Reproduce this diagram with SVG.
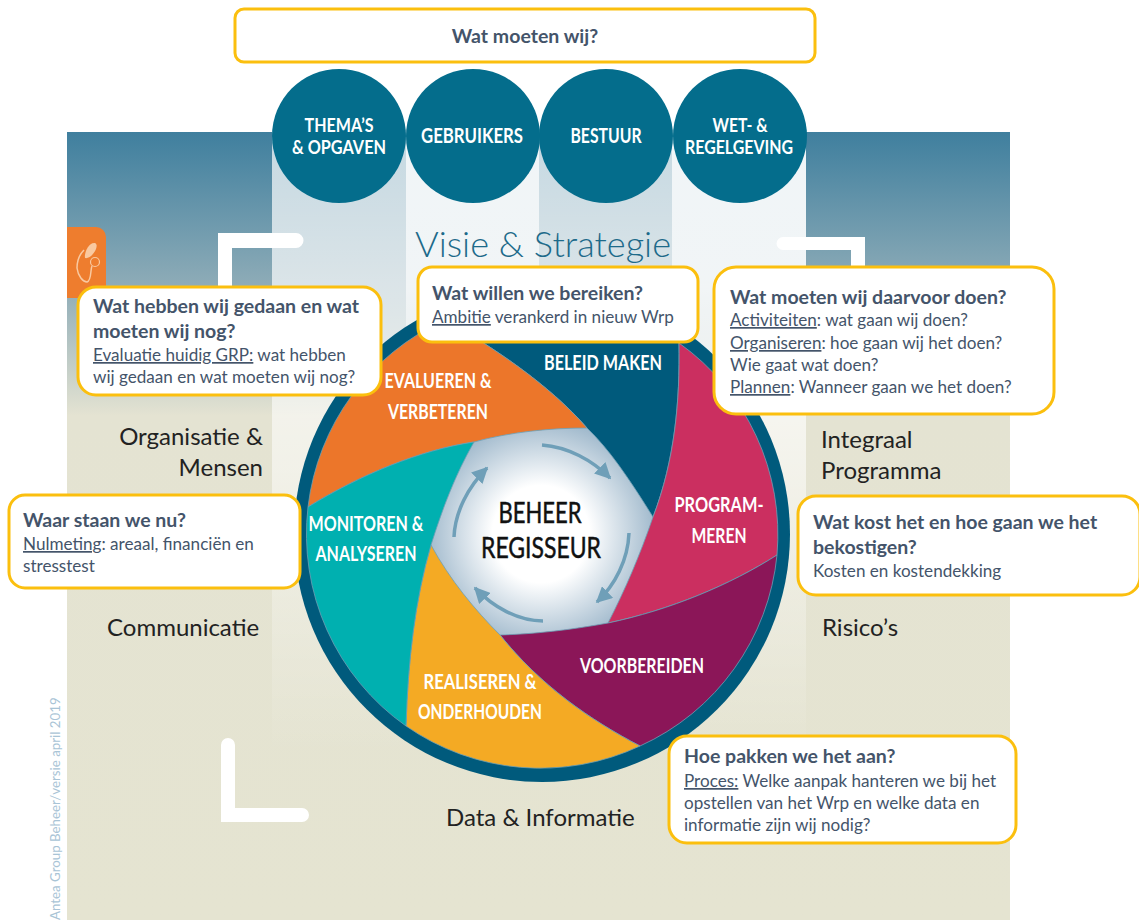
<svg xmlns="http://www.w3.org/2000/svg" width="1139" height="920" viewBox="0 0 1139 920">
<defs>
<linearGradient id="bg" x1="0" y1="0" x2="0" y2="1"><stop offset="0" stop-color="#3f7f9e"/><stop offset="0.2" stop-color="#90adb8"/><stop offset="0.36" stop-color="#e4e3d2"/><stop offset="1" stop-color="#e5e4d1"/></linearGradient>
<linearGradient id="colA" x1="0" y1="0" x2="0" y2="1"><stop offset="0" stop-color="#fff" stop-opacity="0.7"/><stop offset="0.25" stop-color="#fff" stop-opacity="0.68"/><stop offset="0.55" stop-color="#fff" stop-opacity="0.5"/><stop offset="1" stop-color="#fff" stop-opacity="0"/></linearGradient>
<linearGradient id="colB" x1="0" y1="0" x2="0" y2="1"><stop offset="0" stop-color="#fff" stop-opacity="0.93"/><stop offset="0.25" stop-color="#fff" stop-opacity="0.88"/><stop offset="0.55" stop-color="#fff" stop-opacity="0.55"/><stop offset="1" stop-color="#fff" stop-opacity="0"/></linearGradient>
<radialGradient id="hub"><stop offset="0" stop-color="#fff"/><stop offset="0.38" stop-color="#fff"/><stop offset="1" stop-color="#8dabc2"/></radialGradient>
<marker id="ah" viewBox="0 0 10 10" refX="9" refY="5" markerWidth="4.6" markerHeight="4.6" orient="auto"><path d="M0 0L10 5L0 10Z" fill="#6f9fb8"/></marker>
</defs>
<style>
text{font-family:Lato,"Open Sans","Liberation Sans",sans-serif}
.box{fill:#fff;stroke:#fbbf0e;stroke-width:3}
.h{font-size:19.500px;font-weight:700;fill:#44546a}
.b{font-size:17.100px;fill:#44546a}
.u{text-decoration:underline}
.w{font-weight:700;fill:#fff;font-size:20px}
.d{font-weight:700;fill:#fff;font-size:18.300px}
.l{font-size:24px;fill:#222}
.disc{fill:#046d8c}
.arc{fill:none;stroke:#6f9fb8;stroke-width:3.5;marker-end:url(#ah)}
.blade{stroke:#6d9fb5;stroke-width:.8}
.bk{fill:#fff}
</style>
<rect width="1139" height="920" fill="#fff"/>
<rect x="67" y="132" width="943" height="788" fill="url(#bg)"/>
<rect x="272" y="132" width="134" height="620" fill="url(#colA)"/>
<rect x="406" y="132" width="133" height="620" fill="url(#colB)"/>
<rect x="539" y="132" width="133" height="620" fill="url(#colA)"/>
<rect x="672" y="132" width="134" height="620" fill="url(#colB)"/>
<g id="corner-brackets">
<path class="bk" d="M218 233H296a6.500 6.500 0 0 1 0 15H232V300H218Z"/>
<path class="bk" d="M865 237H783a6.500 6.500 0 0 0 0 13H851V300H865Z"/>
<path class="bk" d="M221 745a7 7 0 0 1 14 0V808H302a7 7 0 0 1 0 14H221Z"/>
</g>
<g id="side-tab">
<path d="M67 227H96a10 10 0 0 1 10 10V298H67Z" fill="#ee7d2e"/>
<path d="M84 250C79 255 77 262 77 268C78 276 83 282 87 282C92 280 90 270 92 266" fill="none" stroke="#f9c9a0" stroke-width="1.500"/>
<path d="M95 243C89 242 84 252 85 258C89 259 94 254 96 249C97 246 97 244 95 243Z" fill="#f9c9a0"/>
<circle cx="95" cy="262" r="4.500" fill="none" stroke="#f9c9a0" stroke-width="1.200"/>
</g>
<text transform="translate(60 920) rotate(-90)" font-size="13.300" fill="#a9c4d6">Antea Group Beheer/versie april 2019</text>
<g id="top-question"><rect class="box" x="235" y="9" width="580" height="53" rx="9"/><text class="h" x="525" y="43" text-anchor="middle">Wat moeten wij?</text></g>
<g id="thema"><circle class="disc" cx="339" cy="136" r="67"/><text class="d" x="339" y="131.500" text-anchor="middle" textLength="69" lengthAdjust="spacingAndGlyphs">THEMA’S</text><text class="d" x="339" y="153.500" text-anchor="middle" textLength="94" lengthAdjust="spacingAndGlyphs">&amp; OPGAVEN</text></g>
<g id="gebruikers"><circle class="disc" cx="473" cy="136" r="67"/><text class="w" x="472" y="143" text-anchor="middle" textLength="102" lengthAdjust="spacingAndGlyphs">GEBRUIKERS</text></g>
<g id="bestuur"><circle class="disc" cx="606" cy="136" r="67"/><text class="w" x="606" y="143" text-anchor="middle" textLength="71" lengthAdjust="spacingAndGlyphs">BESTUUR</text></g>
<g id="wet"><circle class="disc" cx="740" cy="136" r="67"/><text class="d" x="740" y="131.500" text-anchor="middle" textLength="55" lengthAdjust="spacingAndGlyphs">WET- &amp;</text><text class="d" x="739" y="153.500" text-anchor="middle" textLength="108" lengthAdjust="spacingAndGlyphs">REGELGEVING</text></g>
<text x="415" y="257" font-size="34.500" font-weight="300" fill="#1d6a8a" textLength="256" lengthAdjust="spacingAndGlyphs">Visie &amp; Strategie</text>
<text class="l" x="263" y="445" text-anchor="end">Organisatie &amp;</text>
<text class="l" x="263" y="476" text-anchor="end">Mensen</text>
<text class="l" x="821" y="448">Integraal</text>
<text class="l" x="821" y="479">Programma</text>
<text class="l" x="107" y="636">Communicatie</text>
<text class="l" x="822" y="636">Risico’s</text>
<text class="l" x="446" y="826">Data &amp; Informatie</text>
<g id="wheel-ring"><circle cx="542" cy="534" r="248" fill="#005a7c"/><circle cx="541" cy="534" r="128" fill="url(#hub)"/></g>
<g id="beleid-maken"><path class="blade" fill="#005a7c" d="M653 517C630 480 610 450 587 428C550 385 490 345 445 320A235 235 0 0 1 679 343C680 400 675 460 653 517Z"/><text class="w" x="603" y="370" text-anchor="middle" textLength="118" lengthAdjust="spacingAndGlyphs">BELEID MAKEN</text></g>
<g id="evalueren"><path class="blade" fill="#ec762a" d="M308 507C360 475 420 450 474 442C510 432 550 428 587 428C550 385 490 345 445 320A235 235 0 0 0 308 507Z"/><text class="w" x="438" y="388" text-anchor="middle" textLength="107" lengthAdjust="spacingAndGlyphs">EVALUEREN &amp;</text><text class="w" x="438" y="419" text-anchor="middle" textLength="100" lengthAdjust="spacingAndGlyphs">VERBETEREN</text></g>
<g id="programmeren"><path class="blade" fill="#cb2f60" d="M679 343C680 400 675 460 653 517C640 555 625 590 608 623C670 610 730 585 777 555A235 235 0 0 0 679 343Z"/><text class="w" x="719" y="512" text-anchor="middle" textLength="89" lengthAdjust="spacingAndGlyphs">PROGRAM-</text><text class="w" x="719" y="543" text-anchor="middle" textLength="55" lengthAdjust="spacingAndGlyphs">MEREN</text></g>
<g id="voorbereiden"><path class="blade" fill="#8b1658" d="M777 555C730 585 670 610 608 623C570 630 535 634 500 635C540 685 590 720 640 746A235 235 0 0 0 777 555Z"/><text class="w" x="642" y="673" text-anchor="middle" textLength="124" lengthAdjust="spacingAndGlyphs">VOORBEREIDEN</text></g>
<g id="realiseren"><path class="blade" fill="#f4aa24" d="M500 635C540 685 590 720 640 746A235 235 0 0 1 406 726C408 660 415 600 431 545C450 580 475 610 500 635Z"/><text class="w" x="480" y="689" text-anchor="middle" textLength="113" lengthAdjust="spacingAndGlyphs">REALISEREN &amp;</text><text class="w" x="480" y="719" text-anchor="middle" textLength="124" lengthAdjust="spacingAndGlyphs">ONDERHOUDEN</text></g>
<g id="monitoren"><path class="blade" fill="#00b0b0" d="M431 545C415 600 408 660 406 726A235 235 0 0 1 308 507C360 475 420 450 474 442C455 475 442 510 431 545Z"/><text class="w" x="366" y="531" text-anchor="middle" textLength="115" lengthAdjust="spacingAndGlyphs">MONITOREN &amp;</text><text class="w" x="366" y="561" text-anchor="middle" textLength="101" lengthAdjust="spacingAndGlyphs">ANALYSEREN</text></g>
<g id="connectors">
<path class="arc" d="M542 445C568 447 592 460 610 478"/>
<path class="arc" d="M629 533C628 560 615 585 597 602"/>
<path class="arc" d="M543 621C518 621 493 607 475 588"/>
<path class="arc" d="M454 537C455 512 468 487 487 468"/>
</g>
<g id="hub-label" fill="#111" stroke="#111" stroke-width=".5"><text x="540" y="523" font-size="29" text-anchor="middle" textLength="83" lengthAdjust="spacingAndGlyphs">BEHEER</text><text x="541" y="558" font-size="29" text-anchor="middle" textLength="120" lengthAdjust="spacingAndGlyphs">REGISSEUR</text></g>
<g id="q-evaluatie"><rect class="box" x="78" y="287" width="303" height="108" rx="18"/><text class="h" x="93" y="313">Wat hebben wij gedaan en wat</text><text class="h" x="93" y="338">moeten wij nog?</text><text class="b" x="93" y="361"><tspan class="u">Evaluatie huidig GRP:</tspan> wat hebben</text><text class="b" x="93" y="383">wij gedaan en wat moeten wij nog?</text></g>
<g id="q-ambitie"><rect class="box" x="418" y="267" width="280" height="75" rx="14"/><text class="h" x="432" y="300">Wat willen we bereiken?</text><text class="b" x="432" y="323"><tspan class="u">Ambitie</tspan> verankerd in nieuw Wrp</text></g>
<g id="q-activiteiten"><rect class="box" x="714" y="267" width="340" height="147" rx="22"/><text class="h" x="730" y="304">Wat moeten wij daarvoor doen?</text><text class="b" x="730" y="326"><tspan class="u">Activiteiten</tspan>: wat gaan wij doen?</text><text class="b" x="730" y="349"><tspan class="u">Organiseren</tspan>: hoe gaan wij het doen?</text><text class="b" x="730" y="371">Wie gaat wat doen?</text><text class="b" x="730" y="393"><tspan class="u">Plannen</tspan>: Wanneer gaan we het doen?</text></g>
<g id="q-nulmeting"><rect class="box" x="9" y="495" width="291" height="93" rx="16"/><text class="h" x="23" y="527">Waar staan we nu?</text><text class="b" x="23" y="550"><tspan class="u">Nulmeting</tspan>: areaal, financiën en</text><text class="b" x="23" y="572">stresstest</text></g>
<g id="q-kosten"><rect class="box" x="798" y="496" width="342" height="99" rx="18"/><text class="h" x="813" y="529">Wat kost het en hoe gaan we het</text><text class="h" x="813" y="554">bekostigen?</text><text class="b" x="813" y="577">Kosten en kostendekking</text></g>
<g id="q-proces"><rect class="box" x="669" y="736" width="347" height="107" rx="18"/><text class="h" x="684" y="763">Hoe pakken we het aan?</text><text class="b" x="684" y="787"><tspan class="u">Proces:</tspan> Welke aanpak hanteren we bij het</text><text class="b" x="684" y="809">opstellen van het Wrp en welke data en</text><text class="b" x="684" y="831">informatie zijn wij nodig?</text></g>
</svg>
